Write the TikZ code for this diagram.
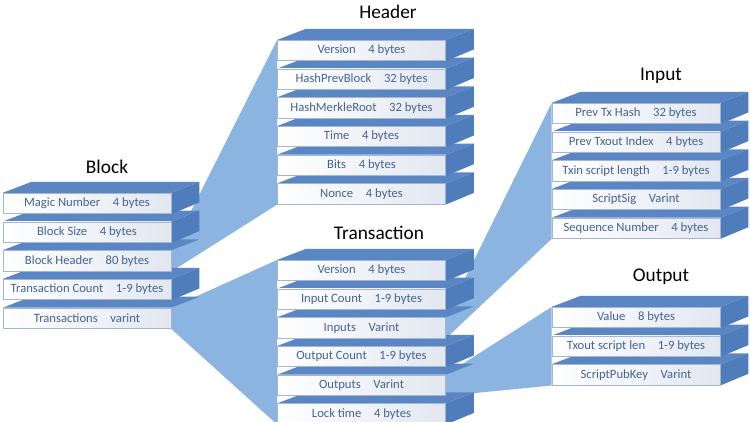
\documentclass[tikz,border=0pt]{standalone}
\usepackage{fontspec}
\setmainfont{Carlito}
\usetikzlibrary{positioning}
\definecolor{rowtext}{HTML}{45638F}
\definecolor{topblue}{HTML}{5A86C3}
\definecolor{sideblue}{HTML}{4F7DBB}
\definecolor{rowgray}{HTML}{E2E7F0}
\definecolor{rowedge}{HTML}{A3B6D4}
\definecolor{funblue}{HTML}{8CB4E1}
\pgfdeclarelayer{back}
\pgfdeclarelayer{mid}
\pgfsetlayers{back,mid,main}

\begin{document}
\begin{tikzpicture}[
  x=0.02cm,y=-0.02cm,
  node distance=0.15cm,
  row/.style={draw=rowedge,line width=0.4pt,left color=white,right color=rowgray,
              text=rowtext,font=\fontsize{7.2}{8}\selectfont,
              minimum width=3.36cm,minimum height=0.41cm,inner sep=0pt},
  ttl/.style={font=\fontsize{11}{13}\selectfont},
  topface/.style={fill=topblue},
  sideface/.style={fill=sideblue},
  funnel/.style={fill=funblue}
]
  \useasboundingbox (0,0) rectangle (750,422);

  % Block
  \node[ttl] (tblock) at (107,167) {Block};
  \node[row] (mn) at (87,203.5) {Magic Number\quad 4 bytes};
  \node[row,below=of mn] (bs) {Block Size\quad 4 bytes};
  \node[row,below=of bs] (bh) {Block Header\quad 80 bytes};
  \node[row,below=of bh] (tc) {Transaction Count\quad 1-9 bytes};
  \node[row,below=of tc] (tx) {Transactions\quad varint};

  % Header
  \node[ttl] (theader) at (388,12) {Header};
  \node[row] (hv) at (361.5,50.5) {Version\quad 4 bytes};
  \node[row,below=of hv] (hp) {HashPrevBlock\quad 32 bytes};
  \node[row,below=of hp] (hm) {HashMerkleRoot\quad 32 bytes};
  \node[row,below=of hm] (ht) {Time\quad 4 bytes};
  \node[row,below=of ht] (hb) {Bits\quad 4 bytes};
  \node[row,below=of hb] (hn) {Nonce\quad 4 bytes};

  % Transaction
  \node[ttl] (ttrans) at (379,233) {Transaction};
  \node[row] (tv) at (361.5,270.5) {Version\quad 4 bytes};
  \node[row,below=of tv] (tic) {Input Count\quad 1-9 bytes};
  \node[row,below=of tic] (ti) {Inputs\quad Varint};
  \node[row,below=of ti] (toc) {Output Count\quad 1-9 bytes};
  \node[row,below=of toc] (to) {Outputs\quad Varint};
  \node[row,below=of to] (tl) {Lock time\quad 4 bytes};

  % Input
  \node[ttl] (tinput) at (661,76) {Input};
  \node[row] (ip) at (636,113.5) {Prev Tx Hash\quad 32 bytes};
  \node[row,below=of ip] (ix) {Prev Txout Index\quad 4 bytes};
  \node[row,below=of ix] (il) {Txin script length\quad 1-9 bytes};
  \node[row,below=of il] (ig) {ScriptSig\quad Varint};
  \node[row,below=of ig] (is) {Sequence Number\quad 4 bytes};

  % Output
  \node[ttl] (toutput) at (661,277) {Output};
  \node[row] (ov) at (636,317.5) {Value\quad 8 bytes};
  \node[row,below=of ov] (ol) {Txout script len\quad 1-9 bytes};
  \node[row,below=of ol] (ok) {ScriptPubKey\quad Varint};

  % box sides
  \begin{pgfonlayer}{mid}
    \foreach \n in {mn,bs,bh,tc,tx,hv,hp,hm,ht,hb,hn,tv,tic,ti,toc,to,tl,ip,ix,il,ig,is,ov,ol,ok}
      \fill[topface] (\n.north west) -- (\n.north east) -- ++(28,-11) -- ++(-168,0) -- cycle;
    \foreach \n in {mn,bs,tc,hv,hp,hm,ht,hb,hn,tv,tic,toc,tl,ip,ix,il,ig,is,ov,ol,ok}
      \fill[sideface] (\n.north east) -- ++(28,-11) -- ++(0,20.5) -- (\n.south east) -- cycle;
  \end{pgfonlayer}

  % funnels
  \begin{pgfonlayer}{back}
    \fill[funnel] (bh.north east) -- (hv.north west) -- (hn.south west) -- (bh.south east) -- cycle;
    \fill[funnel] (tx.north east) -- (tv.north west) -- (tl.south west) -- (tx.south east) -- cycle;
    \fill[funnel] (ti.north east) -- (ip.north west) -- (is.south west) -- (ti.south east) -- cycle;
    \fill[funnel] (to.north east) -- (ov.north west) -- (ok.south west) -- (to.south east) -- cycle;
  \end{pgfonlayer}
\end{tikzpicture}
\end{document}
